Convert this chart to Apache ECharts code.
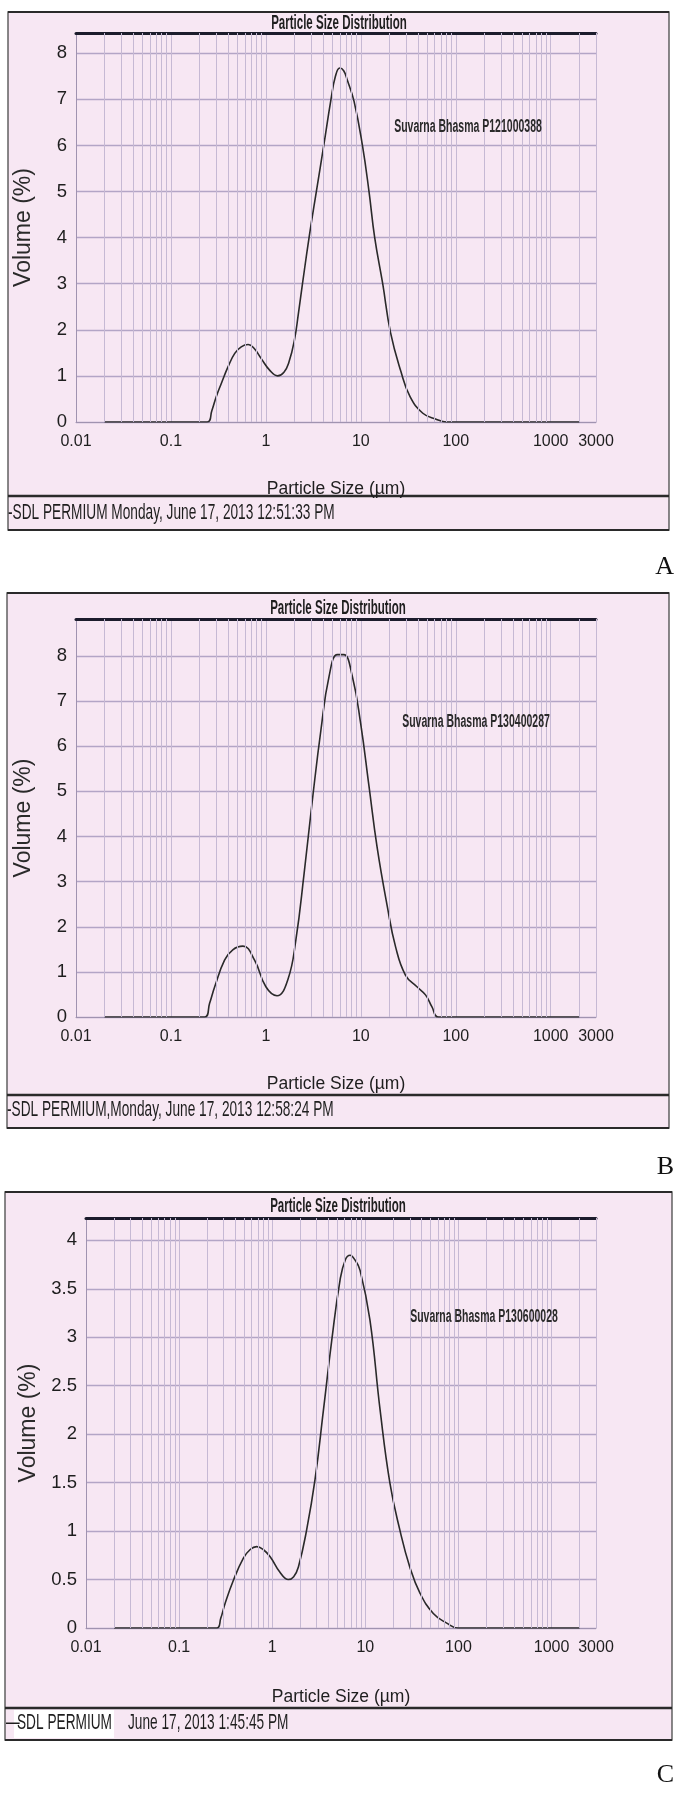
<!DOCTYPE html>
<html>
<head>
<meta charset="utf-8">
<script src="https://cdn.jsdelivr.net/npm/echarts@6/dist/echarts.min.js"></script>
<style>
html,body{margin:0;padding:0;background:#fff;}
#chart{width:676px;height:1801px;}
</style>
</head>
<body>
<div id="chart"></div>
<script>
// ---- data (particle size in µm, volume in %) ----
const sizesA = [0.02, 0.1, 0.24, 0.27, 0.30, 0.34, 0.40, 0.47, 0.55, 0.65, 0.75, 0.89, 1.1, 1.33, 1.55, 1.75, 2.0, 2.2, 2.43, 2.85, 3.4, 4.07, 4.85, 5.4, 6.0, 6.6, 7.2, 8.5, 10.4, 12.2, 14.0, 17.0, 20.5, 26.4, 33, 45, 62, 80, 200, 1000, 2000];
const volA   = [0, 0, 0, 0.25, 0.55, 0.84, 1.2, 1.49, 1.63, 1.68, 1.6, 1.38, 1.12, 1.0, 1.08, 1.3, 1.78, 2.35, 3.0, 4.0, 5.0, 6.0, 7.0, 7.5, 7.68, 7.62, 7.42, 6.95, 6.0, 5.0, 4.0, 3.0, 1.95, 1.1, 0.55, 0.19, 0.06, 0, 0, 0, 0];

const sizesB = [0.02, 0.1, 0.227, 0.255, 0.289, 0.367, 0.448, 0.573, 0.76, 1.0, 1.31, 1.70, 2.07, 2.53, 3.09, 3.8, 4.63, 5.67, 6.6, 8.13, 9.95, 12.2, 14.8, 19.0, 23.2, 29.5, 39, 48, 56, 66, 200, 1000, 2000];
const volB   = [0, 0, 0, 0.3, 0.67, 1.26, 1.49, 1.57, 1.26, 0.67, 0.47, 0.82, 1.71, 3.19, 4.81, 6.36, 7.55, 8.03, 8.03, 7.55, 6.51, 5.11, 3.78, 2.45, 1.56, 0.93, 0.67, 0.49, 0.23, 0, 0, 0, 0];

const sizesC = [0.02, 0.1, 0.253, 0.28, 0.311, 0.382, 0.49, 0.58, 0.68, 0.8, 0.95, 1.2, 1.49, 1.7, 1.91, 2.34, 2.88, 3.55, 4.36, 5.35, 6.1, 6.86, 7.7, 8.78, 11.2, 14.4, 18.4, 23.5, 30, 38.6, 53.7, 74.8, 99, 200, 1000, 2000];
const volC   = [0, 0, 0, 0.1, 0.25, 0.49, 0.72, 0.81, 0.84, 0.81, 0.735, 0.58, 0.50, 0.53, 0.63, 1.01, 1.53, 2.25, 2.97, 3.59, 3.80, 3.845, 3.8, 3.69, 3.18, 2.25, 1.49, 1.01, 0.63, 0.36, 0.15, 0.05, 0, 0, 0, 0];

// ---- axis / labels ----
const xMin = 0.01, xMax = 3000;
const xTickLabels = [0.01, 0.1, 1, 10, 100, 1000, 3000];
const yMaxes = [8.44, 8.82, 4.23];
const yIntervals = [1, 1, 0.5];
const minorGridX = [0.02,0.03,0.04,0.05,0.06,0.07,0.08,0.09,
  0.2,0.3,0.4,0.5,0.6,0.7,0.8,0.9,
  2,3,4,5,6,7,8,9,
  20,30,40,50,60,70,80,90,
  200,300,400,500,600,700,800,900,
  2000, 3000];
const panelTitle = 'Particle Size Distribution';
const xName = 'Particle Size (µm)';
const yName = 'Volume (%)';
const sampleNames = ['Suvarna Bhasma P121000388', 'Suvarna Bhasma P130400287', 'Suvarna Bhasma P130600028'];
const footers = ['-SDL PERMIUM Monday, June 17, 2013 12:51:33 PM', '-SDL PERMIUM,Monday, June 17, 2013 12:58:24 PM'];
const footerC = ['—', 'SDL PERMIUM', 'June 17, 2013 1:45:45 PM'];
const panelLetters = ['A', 'B', 'C'];

// ---- layout ----
const SANS = '"Liberation Sans",Arial,sans-serif';
const grids = [
  {left: 76, top: 33, width: 520, height: 389},
  {left: 76, top: 619, width: 520, height: 398},
  {left: 86, top: 1218, width: 510, height: 410}
];
const frames = [
  {x: 8, top: 12, sep: 496, bottom: 530, right: 669, title: 23, note: [468, 127], foot: 513, letter: 567},
  {x: 7, top: 593, sep: 1095, bottom: 1128, right: 669, title: 608, note: [476, 722], foot: 1110, letter: 1167},
  {x: 5, top: 1192, sep: 1708, bottom: 1740, right: 672, title: 1206, note: [484, 1317], foot: 1723, letter: 1775}
];
const PINK = '#f7e7f3';
const VGRID = '#c6b9d4';
const HGRID = '#b3a5c6';
const AXIS = '#a093b0';
const INK = '#1e1e1e';

const chart = echarts.init(document.getElementById('chart'), null, {renderer: 'canvas'});

const xAxes = [], yAxes = [], series = [], graphic = [];
const allSizes = [sizesA, sizesB, sizesC];
const allVols = [volA, volB, volC];
const fmt = v => String(parseFloat(Number(v).toPrecision(6)));

function narrowText(x, y, text, size, weight, sx, align, fill) {
  return {type: 'text', z: 10, x: x, y: y, scaleX: sx, scaleY: 1.25,
    style: {text: text, fontFamily: SANS, fontWeight: weight, fontSize: size, fill: fill || INK,
      align: align, verticalAlign: 'middle'}};
}

grids.forEach((g, i) => {
  xAxes.push({
    type: 'log', logBase: 10, gridIndex: i, min: xMin, max: xMax,
    position: 'bottom',
    name: xName, nameLocation: 'middle', nameGap: i === 2 ? 60 : 58,
    nameTextStyle: {fontFamily: SANS, fontSize: 17.5, color: INK},
    axisLine: {show: true, lineStyle: {color: AXIS, width: 1}},
    axisTick: {show: false, customValues: xTickLabels},
    axisLabel: {fontFamily: SANS, fontSize: 16, color: INK, margin: 12,
      customValues: xTickLabels, formatter: fmt, showMaxLabel: true, showMinLabel: true, hideOverlap: false},
    splitLine: {show: true, lineStyle: {color: VGRID, width: 1}}
  });
  xAxes.push({
    type: 'log', logBase: 10, gridIndex: i, min: xMin, max: xMax, position: 'top',
    axisLine: {show: true, lineStyle: {color: '#1c1c2c', width: 3}},
    axisTick: {show: false}, axisLabel: {show: false}, splitLine: {show: false}
  });
  yAxes.push({
    type: 'value', gridIndex: i, min: 0, max: yMaxes[i], interval: yIntervals[i],
    name: yName, nameLocation: 'middle', nameGap: 41, nameRotate: 90,
    nameTextStyle: {fontFamily: SANS, fontSize: 23, color: '#2a2a2a'},
    axisLine: {show: true, lineStyle: {color: AXIS, width: 1}},
    axisTick: {show: false},
    axisLabel: {fontFamily: SANS, fontSize: 18.5, color: INK, margin: 9, showMaxLabel: false},
    splitLine: {show: true, lineStyle: {color: HGRID, width: 1.3}}
  });
  // minor log grid lines
  series.push({
    type: 'line', xAxisIndex: 2 * i, yAxisIndex: i, data: [], silent: true, z: 1,
    markLine: {
      silent: true, symbol: ['none', 'none'], animation: false,
      label: {show: false},
      lineStyle: {type: 'solid', color: VGRID, width: 1},
      data: minorGridX.map(v => ({xAxis: v}))
    }
  });
  // the distribution curve
  series.push({
    type: 'line', xAxisIndex: 2 * i, yAxisIndex: i, z: 3,
    data: allSizes[i].map((s, k) => [s, allVols[i][k]]),
    showSymbol: false, smooth: 0.45,
    lineStyle: {color: '#2a2a2a', width: 1.6},
    animation: false
  });

  const f = frames[i];
  graphic.push({type: 'rect', z: -10, shape: {x: f.x, y: f.top, width: f.right - f.x, height: f.bottom - f.top},
    style: {fill: PINK, stroke: '#4a4a4a', lineWidth: 1.3}});
  graphic.push({type: 'line', z: -9, shape: {x1: f.x, y1: f.top, x2: f.right, y2: f.top}, style: {stroke: '#2a2a2a', lineWidth: 2.2}});
  graphic.push({type: 'line', z: -9, shape: {x1: f.x, y1: f.sep, x2: f.right, y2: f.sep}, style: {stroke: '#2a2a2a', lineWidth: 2.4}});
  graphic.push({type: 'line', z: -9, shape: {x1: f.x, y1: f.bottom, x2: f.right, y2: f.bottom}, style: {stroke: '#2a2a2a', lineWidth: 2}});
  graphic.push(narrowText(f.x + (i === 2 ? 333 : 331), f.title, panelTitle, 16, 'bold', 0.72, 'center'));
  graphic.push(narrowText(f.note[0], f.note[1], sampleNames[i], 14, 'bold', 0.75, 'center', '#2a2a2a'));
  graphic.push({type: 'text', z: 10, x: 674, y: f.letter,
    style: {text: panelLetters[i], fontFamily: '"Liberation Serif","DejaVu Serif",serif', fontSize: 26, fill: '#111', align: 'right', verticalAlign: 'middle'}});
  if (i < 2) {
    graphic.push(narrowText(f.x, f.foot, footers[i], 18, 'normal', 0.76, 'left'));
  }
});

// footer of panel C (white patch behind the instrument name)
graphic.push({type: 'rect', z: -8, shape: {x: 14, y: 1710, width: 100, height: 28}, style: {fill: '#ffffff'}});
graphic.push(narrowText(6, 1723, footerC[0], 18, 'normal', 0.76, 'left'));
graphic.push(narrowText(17, 1723, footerC[1], 18, 'normal', 0.76, 'left'));
graphic.push(narrowText(128, 1723, footerC[2], 18, 'normal', 0.76, 'left'));

chart.setOption({
  animation: false,
  backgroundColor: '#ffffff',
  grid: grids.map(g => Object.assign({containLabel: false}, g)),
  xAxis: xAxes,
  yAxis: yAxes,
  series: series,
  graphic: graphic
});
</script>
</body>
</html>
